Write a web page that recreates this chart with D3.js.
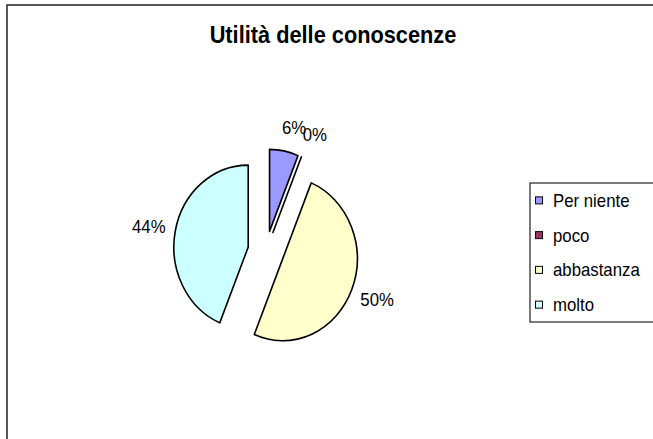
<!DOCTYPE html>
<html lang="it">
<head>
<meta charset="UTF-8">
<title>Utilità delle conoscenze</title>
<script src="https://d3js.org/d3.v7.min.js"></script>
<style>
  body { margin: 0; background: #fff; }
  text { font-family: "Liberation Sans", Arial, sans-serif; fill: #000; }
</style>
</head>
<body>
<svg id="main" width="653" height="439"></svg>
<script>
    // data
    const title = "Utilità delle conoscenze";
    const categories = ["Per niente", "poco", "abbastanza", "molto"];
    const counts = [1, 0, 8, 7];
    const colors = ["#9999FF", "#993366", "#FFFFCC", "#CCFFFF"];

    const svg = d3.select("svg#main");

    // the original picture is squeezed horizontally, text included
    const sx = 0.907;

    // outer chart frame (runs past the right/bottom edges)
    svg.append("rect")
        .attr("x", 7).attr("y", 5)
        .attr("width", 720).attr("height", 500)
        .attr("fill", "#fff")
        .attr("stroke", "#222").attr("stroke-width", 1.5);

    svg.append("text")
        .attr("transform", `translate(333,43) scale(${sx},1)`)
        .attr("text-anchor", "middle")
        .style("font-size", "24px").style("font-weight", "bold")
        .text(title);

    // pie
    const cx = 266, cy = 251, R = 82, explode = 20, gap = 11;
    const total = d3.sum(counts);
    const pct = d3.format(".0%");

    const pie = d3.pie().sort(null).value(d => d.v);
    const arcs = pie(categories.map((c, i) => ({ c: c, v: counts[i], col: colors[i] })));
    const arc = d3.arc().innerRadius(0).outerRadius(R);

    const g = svg.append("g")
        .attr("transform", `translate(${cx},${cy}) scale(${sx},1)`);

    g.selectAll("path")
        .data(arcs)
        .enter()
        .append("path")
        .attr("transform", d => {
            const m = (d.startAngle + d.endAngle) / 2;
            return `translate(${explode * Math.sin(m)},${-explode * Math.cos(m)})`;
        })
        .attr("d", arc)
        .attr("fill", d => d.data.col)
        .attr("stroke", "#000")
        .attr("stroke-width", 1.6)
        .attr("stroke-linejoin", "round")
        .attr("vector-effect", "non-scaling-stroke");

    // percentage labels, just outside each slice
    const fs = 18.5;
    svg.selectAll("text.lbl")
        .data(arcs)
        .enter()
        .append("text")
        .attr("class", "lbl")
        .style("font-size", fs + "px")
        .attr("text-anchor", "middle")
        .text(d => pct(d.data.v / total))
        .each(function(d) {
            const m = (d.startAngle + d.endAngle) / 2;
            const s = Math.sin(m), c = Math.cos(m);
            const w = this.getComputedTextLength() * sx;
            const h = fs * 0.72;
            const px = cx + sx * (explode + R + gap) * s;
            const py = cy - (explode + R + gap) * c;
            const bx = px + w / 2 * Math.sign(s) * Math.pow(Math.abs(s), 0.25);
            const by = py - h * c;
            d3.select(this).attr("transform", `translate(${bx},${by + h / 2}) scale(${sx},1)`);
        });

    // legend
    const ly = d3.scaleBand().domain(categories).range([183, 322]);
    svg.append("rect")
        .attr("x", 530).attr("y", 183)
        .attr("width", 200).attr("height", 139)
        .attr("fill", "#fff")
        .attr("stroke", "#222").attr("stroke-width", 1.2);

    const item = svg.selectAll("g.leg")
        .data(categories)
        .enter()
        .append("g")
        .attr("class", "leg")
        .attr("transform", d => `translate(0,${ly(d) + ly.bandwidth() / 2})`);

    item.append("rect")
        .attr("x", 535.5).attr("y", -3.5)
        .attr("width", 7).attr("height", 7)
        .attr("fill", (d, i) => colors[i])
        .attr("stroke", "#000").attr("stroke-width", 1);

    item.append("text")
        .attr("transform", `translate(553,6.5) scale(${sx},1)`)
        .style("font-size", "18.5px")
        .text(d => d);
</script>
</body>
</html>
